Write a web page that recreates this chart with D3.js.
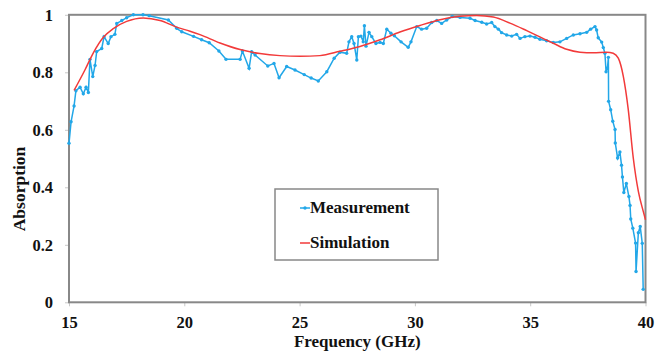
<!DOCTYPE html>
<html>
<head>
<meta charset="utf-8">
<script src="https://cdn.jsdelivr.net/npm/d3@7"></script>
<style>
    body { margin: 0; background: #fff; }
</style>
</head>
<body>
<svg width="655" height="356"></svg>
<script>
    var measFreq = [15.00, 15.09, 15.22, 15.30, 15.48, 15.62, 15.74, 15.84, 15.91, 16.03, 16.13, 16.20, 16.42, 16.52,
        16.70, 16.82, 16.99, 17.07, 17.29, 17.50, 17.79, 18.21, 18.48, 19.31, 19.67, 19.89, 20.40, 20.75, 21.08, 21.50,
        21.81, 22.42, 22.52, 22.81, 22.92, 23.07, 23.62, 23.89, 24.11, 24.44, 24.80, 25.20, 25.50, 25.81, 26.18, 26.50,
        26.75, 27.04, 27.14, 27.26, 27.36, 27.48, 27.55, 27.66, 27.76, 27.81, 27.88, 28.01, 28.13, 28.31, 28.49, 28.63,
        28.78, 28.96, 29.11, 29.40, 29.71, 29.83, 30.08, 30.29, 30.51, 30.73, 30.95, 31.16, 31.38, 31.62, 31.96, 32.39,
        32.61, 32.90, 33.11, 33.33, 33.47, 33.62, 33.76, 33.98, 34.20, 34.41, 34.56, 34.77, 34.99, 35.21, 35.42, 35.71,
        36.00, 36.29, 36.58, 36.87, 37.16, 37.45, 37.62, 37.81, 37.88, 37.95, 38.10, 38.17, 38.24, 38.29, 38.35, 38.39,
        38.40, 38.49, 38.58, 38.68, 38.69, 38.79, 38.89, 38.96, 39.00, 39.06, 39.17, 39.28, 39.33, 39.36, 39.45, 39.57,
        39.59, 39.69, 39.77, 39.86, 39.90];
    var measAbs = [0.553, 0.628, 0.683, 0.736, 0.748, 0.725, 0.748, 0.730, 0.845, 0.785, 0.824, 0.872, 0.883, 0.924,
        0.900, 0.924, 0.932, 0.970, 0.980, 0.990, 1.000, 1.000, 0.997, 0.982, 0.953, 0.941, 0.925, 0.913, 0.903, 0.874,
        0.845, 0.845, 0.874, 0.814, 0.872, 0.860, 0.822, 0.831, 0.781, 0.820, 0.808, 0.792, 0.780, 0.770, 0.802, 0.849,
        0.870, 0.866, 0.906, 0.924, 0.900, 0.843, 0.924, 0.926, 0.906, 0.962, 0.891, 0.939, 0.924, 0.900, 0.904, 0.900,
        0.950, 0.936, 0.927, 0.906, 0.887, 0.906, 0.959, 0.950, 0.953, 0.973, 0.980, 0.970, 0.982, 0.994, 0.991, 0.988,
        0.980, 0.974, 0.968, 0.973, 0.959, 0.950, 0.938, 0.930, 0.926, 0.932, 0.918, 0.924, 0.926, 0.922, 0.915, 0.910,
        0.904, 0.906, 0.918, 0.930, 0.934, 0.939, 0.950, 0.959, 0.947, 0.920, 0.905, 0.886, 0.866, 0.802, 0.815, 0.852,
        0.699, 0.670, 0.630, 0.601, 0.554, 0.502, 0.523, 0.477, 0.436, 0.382, 0.413, 0.368, 0.337, 0.290, 0.258, 0.206,
        0.107, 0.242, 0.264, 0.205, 0.045];

    // simulated absorption
    var simFreq = [15.22, 15.69, 16.05, 16.49, 16.92, 17.50, 18.22, 18.95, 19.67, 20.25, 20.68, 21.55, 22.42, 23.28,
        24.15, 25.02, 25.88, 26.75, 27.62, 28.49, 29.35, 30.22, 31.09, 31.96, 32.68, 33.40, 34.12, 34.85, 36.00, 36.58,
        37.16, 37.74, 38.32, 38.60, 38.82, 39.04, 39.25, 39.47, 39.69, 39.90, 40.00];
    var simAbs = [0.737, 0.808, 0.867, 0.922, 0.952, 0.977, 0.989, 0.980, 0.957, 0.943, 0.931, 0.902, 0.879, 0.865,
        0.858, 0.856, 0.858, 0.873, 0.890, 0.913, 0.940, 0.963, 0.983, 0.995, 0.998, 0.992, 0.971, 0.945, 0.901, 0.880,
        0.870, 0.868, 0.870, 0.866, 0.849, 0.785, 0.672, 0.502, 0.386, 0.317, 0.287];

    var xTicks = [15, 20, 25, 30, 35, 40];
    var yTicks = [0, 0.2, 0.4, 0.6, 0.8, 1];
    var yTickLabels = ["0", "0.2", "0.4", "0.6", "0.8", "1"];
    var seriesNames = ["Measurement", "Simulation"];
    var palette = ["#22a7e8", "#f23a3a"];
    var serif = "'Liberation Serif', 'Times New Roman', 'DejaVu Serif', serif";

    var svg = d3.select("svg");
    var x = d3.scaleLinear().domain([15, 40]).range([69, 645.5]);
    var y = d3.scaleLinear().domain([0, 1]).range([302.3, 14.8]);

    var meas = measFreq.map(function (f, i) { return {f: f, a: measAbs[i]}; });
    var sim = simFreq.map(function (f, i) { return {f: f, a: simAbs[i]}; });

    // axes
    var xAxis = svg.append("g")
        .attr("transform", "translate(0," + y(0) + ")")
        .call(d3.axisBottom(x).tickValues(xTicks).tickSize(4).tickPadding(10).tickSizeOuter(0));
    var yAxis = svg.append("g")
        .attr("transform", "translate(" + x(15) + ",0)")
        .call(d3.axisLeft(y).tickValues(yTicks).tickSize(4).tickPadding(12).tickSizeOuter(0)
            .tickFormat(function (d, i) { return yTickLabels[i]; }));

    [xAxis, yAxis].forEach(function (a) {
        a.attr("font-family", null).attr("font-size", null);
        a.select(".domain").remove();
        a.selectAll(".tick line").attr("stroke", "#c8c8c8");
        a.selectAll("text")
            .attr("fill", "#111")
            .style("font-family", serif)
            .style("font-weight", "bold")
            .style("font-size", "16.5px");
    });

    // frame
    svg.append("rect")
        .attr("x", x(15)).attr("y", y(1))
        .attr("width", x(40) - x(15)).attr("height", y(0) - y(1))
        .attr("fill", "none").attr("stroke", "#888").attr("stroke-width", 2);

    var line = d3.line()
        .x(function (d) { return x(d.f); })
        .y(function (d) { return y(d.a); });

    svg.append("path")
        .datum(meas)
        .attr("d", line)
        .attr("fill", "none")
        .style("stroke", palette[0])
        .style("stroke-width", 1.5);

    svg.append("g").selectAll("circle")
        .data(meas)
        .enter().append("circle")
        .attr("cx", function (d) { return x(d.f); })
        .attr("cy", function (d) { return y(d.a); })
        .attr("r", 1.7)
        .attr("fill", palette[0]);

    svg.append("path")
        .datum(sim)
        .attr("d", line.curve(d3.curveMonotoneX))
        .attr("fill", "none")
        .style("stroke", palette[1])
        .style("stroke-width", 1.5);

    // legend
    var legend = svg.append("g");
    legend.append("rect")
        .attr("x", 275).attr("y", 189).attr("width", 163).attr("height", 71)
        .attr("fill", "#fff").attr("stroke", "#888").attr("stroke-width", 1.5);

    seriesNames.forEach(function (name, i) {
        var ly = 208 + i * 35;
        legend.append("line")
            .attr("x1", 300).attr("x2", 310).attr("y1", ly).attr("y2", ly)
            .style("stroke", palette[i]).style("stroke-width", 1.5);
        if (i === 0) {
            legend.append("circle").attr("cx", 305).attr("cy", ly).attr("r", 1.7).attr("fill", palette[0]);
        }
        legend.append("text")
            .attr("x", 310).attr("y", ly + 5)
            .attr("fill", "#111")
            .style("font-family", serif).style("font-weight", "bold")
            .style("font-size", "17px")
            .text(name);
    });

    // axis titles
    svg.append("text")
        .attr("x", (x(15) + x(40)) / 2).attr("y", 347)
        .attr("text-anchor", "middle")
        .attr("fill", "#111")
        .style("font-family", serif).style("font-weight", "bold")
        .style("font-size", "17px")
        .text("Frequency (GHz)");

    svg.append("text")
        .attr("transform", "translate(25,189) rotate(-90)")
        .attr("text-anchor", "middle")
        .attr("fill", "#111")
        .style("font-family", serif).style("font-weight", "bold")
        .style("font-size", "17.5px")
        .text("Absorption");
</script>
</body>
</html>
